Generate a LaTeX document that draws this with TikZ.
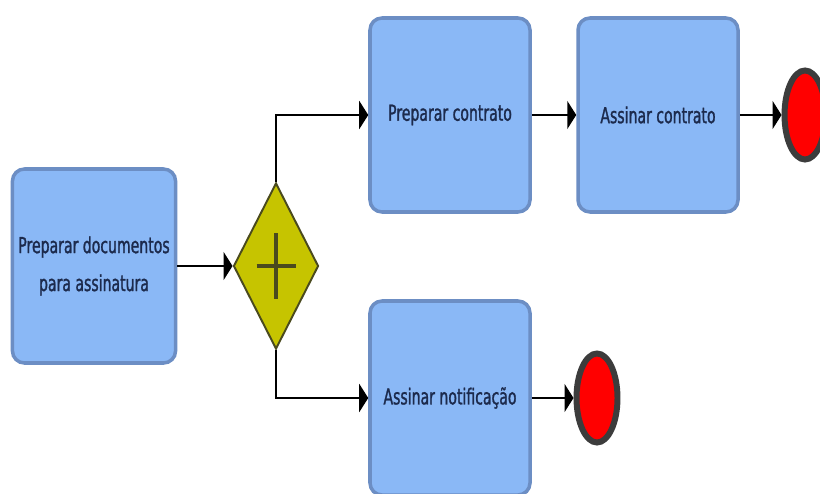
\documentclass[tikz,border=0pt]{standalone}
\usepackage{fontspec}
\newfontfamily\taskfont{DejaVu Sans}[FakeStretch=0.64,FakeBold=1.2]
\usetikzlibrary{arrows.meta,shapes.geometric}
\definecolor{tfill}{HTML}{8AB8F6}
\definecolor{tedge}{HTML}{6C8EC4}
\definecolor{ttext}{HTML}{1C2A4C}
\definecolor{gfill}{HTML}{C6C400}
\definecolor{gedge}{HTML}{4A4A1E}
\definecolor{efill}{HTML}{FF0000}
\definecolor{eedge}{HTML}{3C3C3C}
\tikzset{
  task/.style     = {draw=tedge, line width=2pt, fill=tfill, rounded corners=0.24cm,
                     minimum width=3.2cm, minimum height=3.88cm, align=center,
                     text=ttext, font=\taskfont\fontsize{12.5}{21.6}\selectfont},
  gateway/.style  = {draw=gedge, line width=1.1pt, fill=gfill, diamond, inner sep=0pt,
                     minimum width=1.7cm, minimum height=3.32cm},
  endevent/.style = {draw=eedge, line width=3.4pt, fill=efill, ellipse, inner sep=0pt,
                     minimum width=0.82cm, minimum height=1.78cm},
  flow/.style     = {-{Triangle[length=0.18cm,width=0.56cm]}, line width=1.5pt},
  plusbar/.style  = {draw=gedge, line width=2.6pt},
}

\begin{document}
\begin{tikzpicture}[x=1cm,y=1cm]
\clip (0,0) rectangle (16.4,9.86);
\node[task] (prepDocs) at (1.88,4.54) {Preparar documentos\\para assinatura};
\node[gateway] (gate) at (5.52,4.54) {};
\draw[plusbar] ([yshift=0.66cm]gate.center) -- ([yshift=-0.66cm]gate.center);
\draw[plusbar] ([xshift=-0.39cm]gate.center) -- ([xshift=0.39cm]gate.center);
\node[task] (prepContract) at (9.0,7.56) {Preparar contrato};
\node[task] (signContract) at (13.16,7.56) {Assinar contrato};
\node[endevent] (endTop) at (16.1,7.56) {};
\node[task] (signNotice) at (9.0,1.9) {Assinar notificação};
\node[endevent] (endBottom) at (11.94,1.9) {};
\draw[flow] (prepDocs) -- (gate);
\draw[flow] (gate.north) |- (prepContract.west);
\draw[flow] (gate.south) |- (signNotice.west);
\draw[flow] (prepContract) -- (signContract);
\draw[flow] (signContract) -- (endTop);
\draw[flow] (signNotice) -- (endBottom);
\end{tikzpicture}
\end{document}
